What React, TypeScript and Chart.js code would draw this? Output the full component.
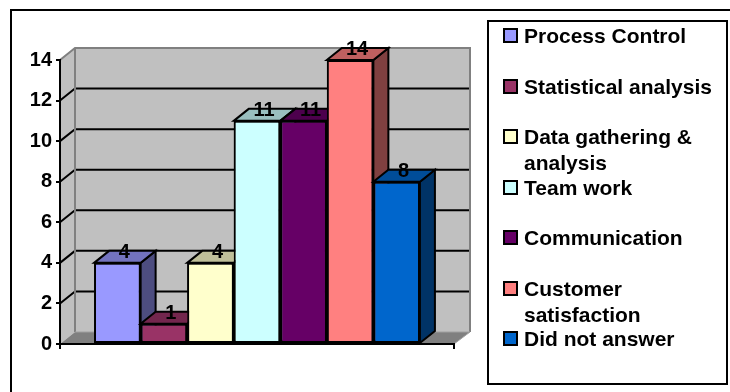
import React, { useEffect, useRef } from "react";
import { Chart, registerables } from "chart.js";

Chart.register(...registerables);

const categories = [""];
const seriesNames = [
  "Process Control",
  "Statistical analysis",
  "Data gathering & analysis",
  "Team work",
  "Communication",
  "Customer satisfaction",
  "Did not answer",
];
const legendLines = [
  ["Process Control"],
  ["Statistical analysis"],
  ["Data gathering &", "analysis"],
  ["Team work"],
  ["Communication"],
  ["Customer", "satisfaction"],
  ["Did not answer"],
];
const seriesValues = [4, 1, 4, 11, 11, 14, 8];
const seriesColors = ["#9999FF", "#993366", "#FFFFCC", "#CCFFFF", "#660066", "#FF8080", "#0066CC"];

const FONT = '"Liberation Sans", Arial, sans-serif';
const DX = 15;
const DY = 12;

function shade(hex: string, k: number) {
  const n = parseInt(hex.slice(1), 16);
  const c = [(n >> 16) & 255, (n >> 8) & 255, n & 255].map((v) => Math.round(v * k));
  return `rgb(${c[0]},${c[1]},${c[2]})`;
}

function poly(ctx: CanvasRenderingContext2D, pts: number[][], fill: string | null, stroke: string | null, lw = 2) {
  ctx.beginPath();
  pts.forEach((p, i) => (i ? ctx.lineTo(p[0], p[1]) : ctx.moveTo(p[0], p[1])));
  ctx.closePath();
  if (fill) {
    ctx.fillStyle = fill;
    ctx.fill();
  }
  if (stroke) {
    ctx.strokeStyle = stroke;
    ctx.lineWidth = lw;
    ctx.lineJoin = "miter";
    ctx.stroke();
  }
}

const threeD = {
  id: "threeD",
  beforeDraw(chart: any) {
    const ctx = chart.ctx as CanvasRenderingContext2D;
    const { left, right, top, bottom } = chart.chartArea;
    const y = chart.scales.y;
    ctx.save();
    // outer frame
    ctx.strokeStyle = "#000";
    ctx.lineWidth = 2;
    ctx.strokeRect(11, 10, 760, 420);
    // legend frame
    ctx.lineWidth = 2;
    ctx.strokeRect(488, 21, 239, 363);
    // walls
    const backR = right + DX + 1;
    poly(ctx, [[left, top], [left + DX, top - DY], [left + DX, bottom - DY], [left, bottom]], "#C0C0C0", null);
    poly(ctx, [[left + DX, top - DY], [backR, top - DY], [backR, bottom - DY], [left + DX, bottom - DY]], "#C0C0C0", null);
    // grid on the walls
    y.ticks.forEach((t: any) => {
      if (t.value === 0 || t.value === y.max) return;
      const py = y.getPixelForValue(t.value);
      ctx.strokeStyle = "#000";
      ctx.lineWidth = 2;
      ctx.beginPath();
      ctx.moveTo(left, py);
      ctx.lineTo(left + DX, py - DY);
      ctx.lineTo(backR, py - DY);
      ctx.stroke();
    });
    // wall edges
    ctx.strokeStyle = "#808080";
    ctx.lineWidth = 2;
    ctx.beginPath();
    ctx.moveTo(left, top);
    ctx.lineTo(left + DX, top - DY);
    ctx.lineTo(backR, top - DY);
    ctx.lineTo(backR, bottom - DY);
    ctx.moveTo(left + DX, top - DY);
    ctx.lineTo(left + DX, bottom - DY);
    ctx.stroke();
    // floor
    poly(ctx, [[left, bottom], [left + DX, bottom - DY], [backR, bottom - DY], [right, bottom]], "#808080", null);
    ctx.strokeStyle = "#A0A0A0";
    ctx.lineWidth = 1;
    ctx.beginPath();
    ctx.moveTo(left + DX, bottom - DY);
    ctx.lineTo(backR, bottom - DY);
    ctx.lineTo(right, bottom);
    ctx.stroke();
    ctx.restore();
  },
  afterDatasetsDraw(chart: any) {
    // repaint bars from back-most (left) to front-most (right) with their 3D faces
    const ctx = chart.ctx as CanvasRenderingContext2D;
    seriesColors.forEach((color, i) => {
      const bar = chart.getDatasetMeta(i).data[0];
      const p = bar.getProps(["x", "y", "base", "width"], true);
      const l = p.x - p.width / 2;
      const r = p.x + p.width / 2;
      ctx.save();
      poly(ctx, [[r, p.y], [r + DX, p.y - DY], [r + DX, p.base - DY], [r, p.base]], shade(color, 0.5), "#000");
      poly(ctx, [[l, p.y], [l + DX, p.y - DY], [r + DX, p.y - DY], [r, p.y]], shade(color, 0.75), "#000");
      ctx.restore();
      bar.draw(ctx);
    });
  },
  afterDraw(chart: any) {
    const ctx = chart.ctx as CanvasRenderingContext2D;
    ctx.save();
    ctx.fillStyle = "#000";
    ctx.font = `bold 20px ${FONT}`;
    ctx.textAlign = "center";
    ctx.textBaseline = "alphabetic";
    seriesValues.forEach((v, i) => {
      const bar = chart.getDatasetMeta(i).data[0];
      const p = bar.getProps(["x", "y"], true);
      ctx.fillText(String(v), p.x + 7, p.y - 5);
    });
    // legend
    ctx.font = `bold 21px ${FONT}`;
    ctx.textAlign = "left";
    const rowTop = 43;
    const rowStep = 50.5;
    legendLines.forEach((lines, i) => {
      const base = Math.round(rowTop + i * rowStep);
      ctx.fillStyle = seriesColors[i];
      ctx.strokeStyle = "#000";
      ctx.lineWidth = 2;
      ctx.fillRect(504, base - 14, 13, 13);
      ctx.strokeRect(504, base - 14, 13, 13);
      ctx.fillStyle = "#000";
      lines.forEach((t, j) => ctx.fillText(t, 524, base + j * 25.5));
    });
    ctx.restore();
  },
};

export default function App() {
  const ref = useRef<HTMLCanvasElement>(null);
  useEffect(() => {
    const chart = new Chart(ref.current as HTMLCanvasElement, {
      type: "bar",
      data: {
        labels: categories,
        datasets: seriesNames.map((name, i) => ({
          label: name,
          data: [seriesValues[i]],
          backgroundColor: seriesColors[i],
          borderColor: "#000",
          borderWidth: 2,
          borderSkipped: false,
          barPercentage: 1,
          categoryPercentage: 0.827,
        })),
      },
      options: {
        responsive: false,
        animation: false,
        layout: { padding: { left: 10, top: 60, right: 276, bottom: 48 } },
        plugins: { legend: { display: false }, tooltip: { enabled: false } },
        scales: {
          x: {
            afterFit: (s: any) => {
              s.height = 0;
            },
            ticks: { display: false },
            grid: { drawOnChartArea: false, drawTicks: true, tickLength: 5, color: "#000", lineWidth: 2, offset: true },
            border: { color: "#000", width: 2 },
          },
          y: {
            min: 0,
            max: 14,
            afterFit: (s: any) => {
              s.width = 50;
            },
            ticks: { stepSize: 2, color: "#000", padding: 4, font: { family: FONT, size: 20, weight: "bold" } },
            grid: { drawOnChartArea: false, drawTicks: true, tickLength: 4, color: "#000", lineWidth: 2 },
            border: { color: "#000", width: 2 },
          },
        },
      },
      plugins: [threeD],
    } as any);
    return () => chart.destroy();
  }, []);
  return (
    <div style={{ position: "fixed", left: 0, top: 0, width: 730, height: 392, background: "#fff" }}>
      <canvas ref={ref} width={730} height={392} style={{ display: "block" }} />
    </div>
  );
}
